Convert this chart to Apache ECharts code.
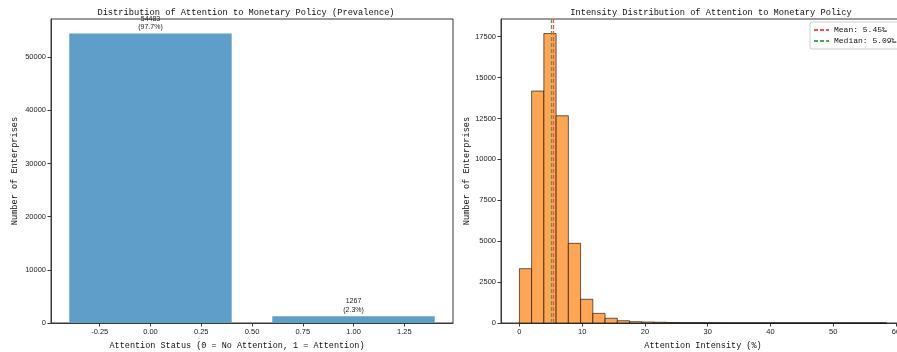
<!DOCTYPE html>
<html>
<head>
<meta charset="utf-8">
<script src="https://cdn.jsdelivr.net/npm/echarts@6/dist/echarts.min.js"></script>
<style>
  html, body { margin: 0; padding: 0; background: #fff; }
  #chart { width: 897px; height: 352px; }
</style>
</head>
<body>
<div id="chart"></div>
<script>
// left: prevalence
const statusValues = [0, 1];
const statusCounts = [54483, 1267];
const statusShares = ['97.7%', '2.3%'];
const statusTicks = [-0.25, 0, 0.25, 0.5, 0.75, 1, 1.25];
const countTicksLeft = [0, 10000, 20000, 30000, 40000, 50000];

// right: intensity histogram (30 bins from 0)
const binWidth = 1.95;
const binCounts = [3320, 14180, 17700, 12670, 4870, 1450, 590, 290, 140, 80,
                   60, 45, 30, 20, 15, 10, 6, 4, 3, 2,
                   1, 1, 1, 0, 0, 0, 0, 0, 0, 1];
const intensityTicks = [0, 10, 20, 30, 40, 50, 60];
const countTicksRight = [0, 2500, 5000, 7500, 10000, 12500, 15000, 17500];
const meanValue = 5.45;
const medianValue = 5.09;

const monoFont = '"Liberation Mono", "DejaVu Sans Mono", monospace';
const sansFont = '"Liberation Sans", Arial, sans-serif';
const frame = '#3a3a3a';

const barData = statusValues.map((v, i) => [v - 0.4, v + 0.4, statusCounts[i], statusShares[i]]);
const histData = binCounts.map((c, i) => [i * binWidth, (i + 1) * binWidth, c]);

function axisCommon(ticks, fmt) {
  return {
    axisLine: { show: true, onZero: false, lineStyle: { color: frame, width: 1 } },
    axisTick: { show: true, length: 3.5, lineStyle: { color: frame }, customValues: ticks },
    axisLabel: {
      color: '#222', fontSize: 7.5, fontFamily: sansFont, margin: 5, customValues: ticks,
      formatter: fmt || function (v) { return String(v); }
    },
    splitLine: { show: false }
  };
}

let option = {
  animation: false,
  title: [
    {
      text: 'Distribution of Attention to Monetary Policy (Prevalence)',
      left: 241, top: 3, textAlign: 'center',
      textStyle: { fontFamily: monoFont, fontSize: 8.7, fontWeight: 'normal', color: '#111' }
    },
    {
      text: 'Intensity Distribution of Attention to Monetary Policy',
      left: 706, top: 3, textAlign: 'center',
      textStyle: { fontFamily: monoFont, fontSize: 8.7, fontWeight: 'normal', color: '#111' }
    }
  ],
  legend: {
    left: 810, top: 22,
    orient: 'vertical',
    itemWidth: 15, itemHeight: 8, itemGap: 3,
    padding: [4, 6, 4, 3],
    backgroundColor: '#fff',
    borderColor: '#ccc', borderWidth: 1, borderRadius: 2,
    itemStyle: { opacity: 0 },
    textStyle: { fontFamily: monoFont, fontSize: 8, color: '#111' },
    data: ['Mean: 5.45‰', 'Median: 5.09‰']
  },
  grid: [
    { left: 51, top: 19, width: 402, bottom: 29, show: true, borderColor: frame, borderWidth: 1, outerBoundsMode: 'none' },
    { left: 501, top: 19, width: 404, bottom: 29, show: true, borderColor: frame, borderWidth: 1, outerBoundsMode: 'none' }
  ],
  xAxis: [
    Object.assign(axisCommon(statusTicks, function (v) { return v.toFixed(2); }), {
      type: 'value', gridIndex: 0, min: -0.49, max: 1.49,
      name: 'Attention Status (0 = No Attention, 1 = Attention)',
      nameLocation: 'middle', nameGap: 15,
      nameTextStyle: { fontFamily: monoFont, fontSize: 8.5, color: '#111', padding: [0, 30, 0, 0] }
    }),
    Object.assign(axisCommon(intensityTicks), {
      type: 'value', gridIndex: 1, min: -2.93, max: 61.43,
      name: 'Attention Intensity (%)',
      nameLocation: 'middle', nameGap: 15,
      nameTextStyle: { fontFamily: monoFont, fontSize: 8.5, color: '#111' }
    })
  ],
  yAxis: [
    Object.assign(axisCommon(countTicksLeft), {
      type: 'value', gridIndex: 0, min: 0, max: 57200,
      name: 'Number of Enterprises',
      nameLocation: 'middle', nameGap: 32,
      nameTextStyle: { fontFamily: monoFont, fontSize: 8.6, color: '#111' }
    }),
    Object.assign(axisCommon(countTicksRight), {
      type: 'value', gridIndex: 1, min: 0, max: 18585,
      name: 'Number of Enterprises',
      nameLocation: 'middle', nameGap: 27,
      nameTextStyle: { fontFamily: monoFont, fontSize: 8.6, color: '#111' }
    })
  ],
  series: [
    {
      type: 'custom',
      xAxisIndex: 0, yAxisIndex: 0,
      data: barData,
      encode: { x: [0, 1], y: 2 },
      renderItem: function (params, api) {
        const p0 = api.coord([api.value(0), api.value(2)]);
        const p1 = api.coord([api.value(1), 0]);
        const label = api.value(2) + '\n(' + barData[params.dataIndex][3] + ')';
        return {
          type: 'group',
          children: [
            {
              type: 'rect',
              shape: { x: p0[0], y: p0[1], width: p1[0] - p0[0], height: p1[1] - p0[1] },
              style: { fill: '#5f9ec9' }
            },
            {
              type: 'text',
              x: (p0[0] + p1[0]) / 2, y: p0[1] - 2,
              style: {
                text: label, align: 'center', verticalAlign: 'bottom',
                fontFamily: sansFont, fontSize: 7, lineHeight: 8.5, fill: '#222'
              }
            }
          ]
        };
      }
    },
    {
      type: 'custom',
      xAxisIndex: 1, yAxisIndex: 1,
      data: histData,
      encode: { x: [0, 1], y: 2 },
      renderItem: function (params, api) {
        const p0 = api.coord([api.value(0), api.value(2)]);
        const p1 = api.coord([api.value(1), 0]);
        return {
          type: 'rect',
          shape: { x: p0[0], y: p0[1], width: p1[0] - p0[0], height: p1[1] - p0[1] },
          style: { fill: '#ffa654', stroke: 'rgba(0,0,0,0.75)', lineWidth: 0.8 }
        };
      }
    },
    {
      name: 'Mean: 5.45‰',
      type: 'line',
      xAxisIndex: 1, yAxisIndex: 1,
      data: [],
      symbol: 'none',
      color: '#ff4d4d',
      lineStyle: { color: '#ff4d4d', type: [4, 2], width: 1.3 },
      markLine: {
        silent: true, symbol: 'none', label: { show: false },
        lineStyle: { color: '#ff4d4d', type: [4, 2], width: 1.3 },
        data: [{ xAxis: meanValue }]
      }
    },
    {
      name: 'Median: 5.09‰',
      type: 'line',
      xAxisIndex: 1, yAxisIndex: 1,
      data: [],
      symbol: 'none',
      color: '#4da64d',
      lineStyle: { color: '#4da64d', type: [4, 2], width: 1.3 },
      markLine: {
        silent: true, symbol: 'none', label: { show: false },
        lineStyle: { color: '#4da64d', type: [4, 2], width: 1.3 },
        data: [{ xAxis: medianValue }]
      }
    }
  ]
};

let myChart = echarts.init(document.getElementById('chart'));
myChart.setOption(option);
</script>
</body>
</html>
